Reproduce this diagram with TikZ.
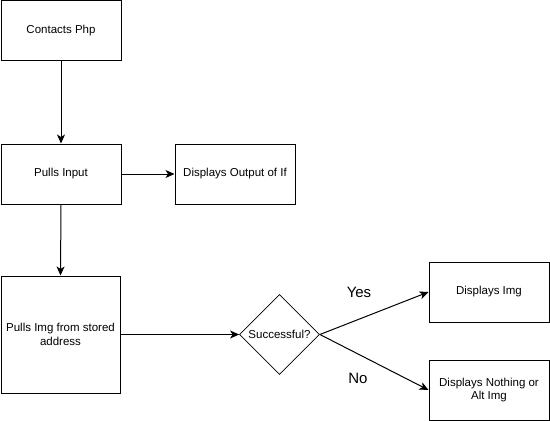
\documentclass[tikz,border=0pt]{standalone}
\usepackage{fontspec}
\setmainfont{Liberation Sans}
\usetikzlibrary{arrows.meta,shapes.geometric}
\begin{document}
\begin{tikzpicture}[x=1pt,y=-1pt,
  box/.style={draw,line width=1pt,inner sep=0pt,align=center,font=\fontsize{11.5}{13.5}\selectfont},
  arr/.style={line width=1pt,-{Stealth[length=9pt,width=8pt,inset=2.5pt]}},
  lbl/.style={font=\fontsize{15}{18}\selectfont}]
\useasboundingbox (0,0) rectangle (550,421);
\node[box,minimum width=120pt,minimum height=60pt] (php) at (61,30.5) {Contacts Php};
\node[box,minimum width=120pt,minimum height=60pt] (input) at (61,174) {Pulls Input};
\node[box,minimum width=120pt,minimum height=60pt] (out) at (235,174) {Displays Output of If};
\node[box,minimum width=119pt,minimum height=117pt] (pull) at (60.5,334.5) {Pulls Img from stored\\address};
\node[diamond,draw,line width=0.8pt,minimum width=80pt,minimum height=80pt,inner sep=0pt] (succ) at (279.5,334.5) {};
\node[font=\fontsize{11.5}{13.5}\selectfont] at (succ) {Successful?};
\node[box,minimum width=120pt,minimum height=60pt] (img) at (489,292) {Displays Img};
\node[box,minimum width=120pt,minimum height=60pt] (alt) at (489,390) {Displays Nothing or\\Alt Img};
\draw[arr] (php) -- (input);
\draw[arr] (input) -- (out);
\draw[arr] (input.south) -- (pull.north);
\draw[arr] (pull) -- (succ);
\draw[arr] (succ.east) -- (img.west);
\draw[arr] (succ.east) -- (alt.west);
\node[lbl] (yes) at (359,292) {Yes};
\node[lbl] (no) at (358,378) {No};
\end{tikzpicture}
\end{document}
